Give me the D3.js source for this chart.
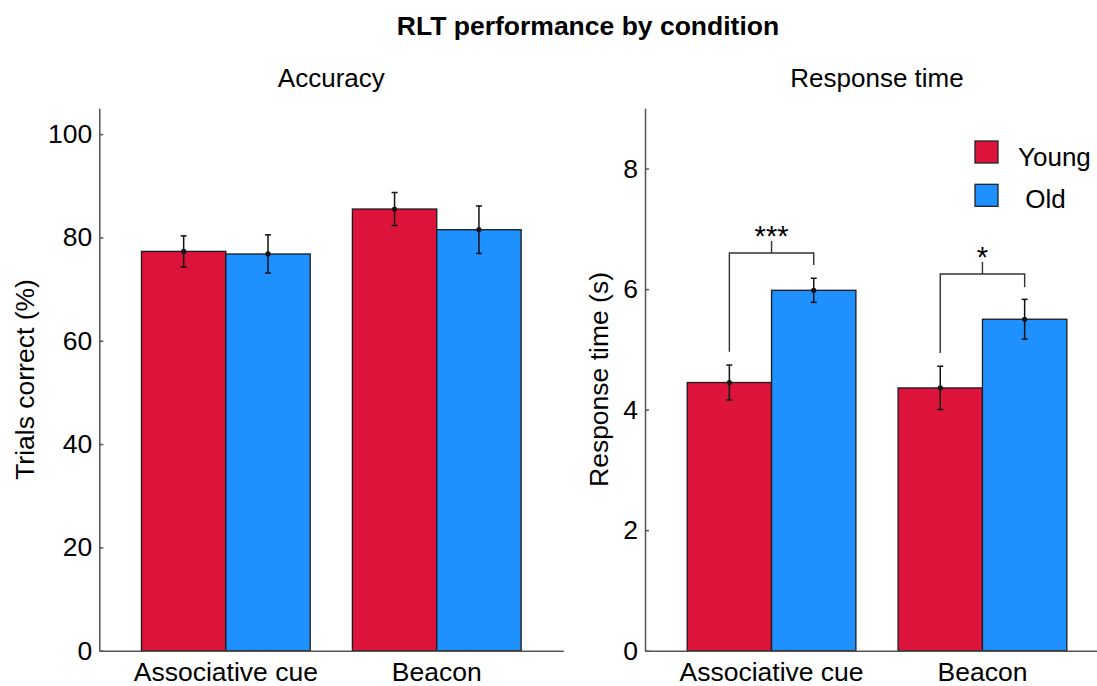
<!DOCTYPE html>
<html>
<head>
<meta charset="utf-8">
<script src="https://cdn.jsdelivr.net/npm/d3@7"></script>
<style>
  html, body { margin: 0; padding: 0; background: #fff; }
  svg { display: block; font-family: "Liberation Sans", Arial, Helvetica, sans-serif; }
</style>
</head>
<body>
<svg id="chart" width="1097" height="686"></svg>
<script>
// Conditions and groups
const conditions = ["Associative cue", "Beacon"];
const groups = ["Young", "Old"];
const groupColors = ["#DC143C", "#1E90FF"];
const legendLabels = ["Young", " Old"];

// Accuracy (% trials correct): mean and error half-width per condition
const accuracyYoung = [77.3, 85.5];
const accuracyOld = [76.8, 81.5];
const accuracyYoungErr = [3.0, 3.2];
const accuracyOldErr = [3.7, 4.6];

// Response time (s): mean and error half-width per condition
const rtYoung = [4.45, 4.36];
const rtOld = [5.98, 5.50];
const rtYoungErr = [0.29, 0.36];
const rtOldErr = [0.20, 0.33];

// Axis ticks
const accuracyTicks = [0, 20, 40, 60, 80, 100];
const rtTicks = [0, 2, 4, 6, 8];

// Significance brackets on the response-time panel (levels in seconds)
const sigLabels = ["***", "*"];
const sigBarLevel = [6.60, 6.25];
const sigLeftFoot = [4.96, 4.94];
const sigRightFoot = [6.40, 6.03];
const sigTickTop = [6.80, 6.45];

const svg = d3.select("#chart");
const plotTop = 108.3, plotBottom = 650.7;
const fontSize = 26.5;

function panel(opts) {
  const g = svg.append("g");
  const x0 = d3.scaleBand().domain(conditions).range(opts.xRange).padding(0.2);
  const x1 = d3.scaleBand().domain(groups).range([0, x0.bandwidth()]);
  const y = d3.scaleLinear().domain(opts.yDomain).range([plotBottom, plotTop]);

  const rows = [];
  conditions.forEach((c, i) => {
    groups.forEach((grp, j) => {
      rows.push({
        cond: c, grp, j,
        value: opts.values[j][i],
        err: opts.errors[j][i]
      });
    });
  });

  // bars
  g.selectAll("rect.bar").data(rows).enter().append("rect")
    .attr("class", "bar")
    .attr("x", d => x0(d.cond) + x1(d.grp))
    .attr("y", d => y(d.value))
    .attr("width", x1.bandwidth())
    .attr("height", d => y(0) - y(d.value))
    .attr("fill", d => groupColors[d.j])
    .attr("stroke", "#1a1a1a")
    .attr("stroke-width", 1.3);

  // error bars
  const cx = d => x0(d.cond) + x1(d.grp) + x1.bandwidth() / 2;
  const eb = g.selectAll("g.err").data(rows).enter().append("g").attr("class", "err")
    .attr("stroke", "#111").attr("stroke-width", 1.5);
  eb.append("line")
    .attr("x1", cx).attr("x2", cx)
    .attr("y1", d => y(d.value - d.err)).attr("y2", d => y(d.value + d.err));
  eb.append("line")
    .attr("x1", d => cx(d) - 3).attr("x2", d => cx(d) + 3)
    .attr("y1", d => y(d.value + d.err)).attr("y2", d => y(d.value + d.err));
  eb.append("line")
    .attr("x1", d => cx(d) - 3).attr("x2", d => cx(d) + 3)
    .attr("y1", d => y(d.value - d.err)).attr("y2", d => y(d.value - d.err));
  g.selectAll("circle.mean").data(rows).enter().append("circle")
    .attr("class", "mean")
    .attr("cx", cx).attr("cy", d => y(d.value)).attr("r", 2.6)
    .attr("fill", "#111");

  // axes
  const yAxis = d3.axisLeft(y).tickValues(opts.ticks).tickSizeInner(-4).tickSizeOuter(0).tickPadding(7);
  const ya = g.append("g").attr("transform", `translate(${opts.xRange[0]},0)`).call(yAxis);
  const xAxis = d3.axisBottom(x0).tickSize(0).tickPadding(11.5);
  const xa = g.append("g").attr("transform", `translate(0,${plotBottom})`).call(xAxis);
  [ya, xa].forEach(a => {
    a.select(".domain").attr("stroke", "#555").attr("stroke-width", 1.5);
    a.selectAll(".tick line").attr("stroke", "#555").attr("stroke-width", 1.5);
    a.selectAll(".tick text").attr("fill", "#000").style("font-size", fontSize + "px")
      .style("font-family", "'Liberation Sans', Arial, sans-serif");
  });

  // panel title
  const midX = (opts.xRange[0] + opts.xRange[1]) / 2;
  g.append("text").attr("x", midX).attr("y", 86.7).attr("text-anchor", "middle")
    .style("font-size", "26px").text(opts.title);

  // y label
  g.append("text")
    .attr("transform", `translate(${opts.yLabelX},${(plotTop + plotBottom) / 2}) rotate(-90)`)
    .attr("text-anchor", "middle")
    .style("font-size", fontSize + "px")
    .text(opts.yLabel);

  return { g, x0, x1, y };
}

panel({
  xRange: [99.3, 563.3], yDomain: [0, 105], ticks: accuracyTicks,
  values: [accuracyYoung, accuracyOld], errors: [accuracyYoungErr, accuracyOldErr],
  title: "Accuracy", yLabel: "Trials correct (%)", yLabelX: 34
});

const rt = panel({
  xRange: [645, 1109], yDomain: [0, 9], ticks: rtTicks,
  values: [rtYoung, rtOld], errors: [rtYoungErr, rtOldErr],
  title: "Response time", yLabel: "Response time (s)", yLabelX: 608
});

// significance brackets
conditions.forEach((c, i) => {
  const xl = rt.x0(c) + rt.x1(groups[0]) + rt.x1.bandwidth() / 2;
  const xr = rt.x0(c) + rt.x1(groups[1]) + rt.x1.bandwidth() / 2;
  const xm = (xl + xr) / 2;
  const y = rt.y;
  const path = d3.path();
  path.moveTo(xl, y(sigLeftFoot[i]));
  path.lineTo(xl, y(sigBarLevel[i]));
  path.lineTo(xr, y(sigBarLevel[i]));
  path.lineTo(xr, y(sigRightFoot[i]));
  path.moveTo(xm, y(sigBarLevel[i]));
  path.lineTo(xm, y(sigTickTop[i]));
  rt.g.append("path").attr("d", path.toString())
    .attr("fill", "none").attr("stroke", "#333").attr("stroke-width", 1.4);
  rt.g.append("text").attr("x", xm).attr("y", y(sigTickTop[i]) + 5)
    .attr("text-anchor", "middle").style("font-size", "29px").text(sigLabels[i]);
});

// legend
const legend = svg.append("g");
groups.forEach((grp, j) => {
  legend.append("rect")
    .attr("x", 975).attr("y", 141 + j * 43.3)
    .attr("width", 23).attr("height", 22)
    .attr("fill", groupColors[j]).attr("stroke", "#222").attr("stroke-width", 1.3);
  legend.append("text")
    .attr("x", 1018).attr("y", 165.5 + j * 42.7)
    .style("font-size", "26px").style("white-space", "pre")
    .text(legendLabels[j]);
});

// figure title
svg.append("text").attr("x", 588).attr("y", 35).attr("text-anchor", "middle")
  .style("font-size", "26.5px").style("font-weight", "bold")
  .text("RLT performance by condition");
</script>
</body>
</html>
